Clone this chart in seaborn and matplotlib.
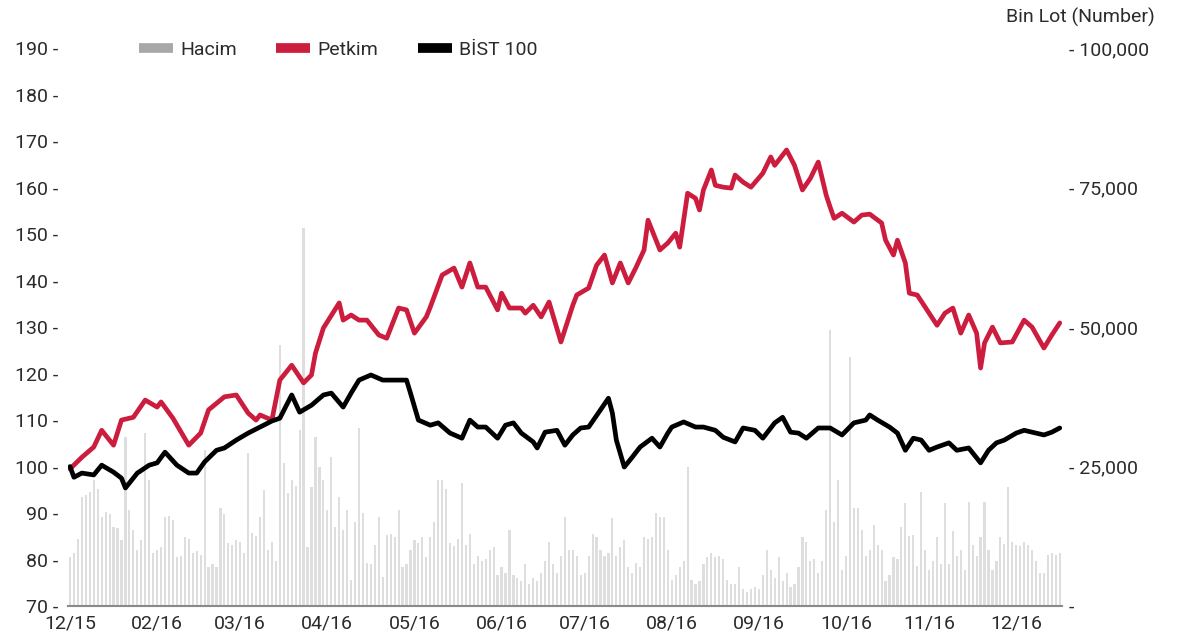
import numpy as np
import pandas as pd
import seaborn as sns
import matplotlib.pyplot as plt
from matplotlib.lines import Line2D

# işlem günü indeksleri ve değerler
petkim_day = [0, 3, 6, 8, 11, 13, 16, 19, 22, 23, 26, 30, 33, 35, 39, 42, 45, 47, 48, 51,
              53, 56, 59, 61, 62, 64, 68, 69, 71, 73, 75, 78, 80, 83, 85, 87, 90, 91, 94, 97,
              99, 101, 103, 105, 108, 109, 111, 114, 115, 117, 119, 121, 124, 127, 128, 131, 133, 135, 137, 139,
              141, 143, 145, 146, 149, 151, 153, 154, 156, 158, 159, 160, 162, 163, 165, 167, 168, 170, 172, 175,
              177, 178, 181, 183, 185, 187, 189, 191, 192, 193, 195, 198, 200, 202, 205, 206, 208, 209, 211, 212,
              214, 216, 219, 221, 223, 225, 227, 229, 230, 231, 233, 235, 238, 241, 243, 246, 248, 250]
petkim = [99.5, 102.0, 104.2, 107.8, 104.6, 110.0, 110.6, 114.3, 112.8, 113.9, 110.4, 104.6, 107.2, 112.2, 115.0, 115.4, 111.5, 110.0, 111.1, 110.0,
          118.6, 121.8, 118.0, 119.7, 124.4, 129.8, 135.2, 131.5, 132.6, 131.5, 131.5, 128.3, 127.6, 134.1, 133.7, 128.7, 132.2, 134.3, 141.2, 142.7,
          138.6, 143.8, 138.6, 138.6, 133.7, 137.3, 134.1, 134.1, 133.0, 134.7, 132.2, 135.4, 126.8, 134.7, 136.9, 138.4, 143.3, 145.5, 139.5, 143.8,
          139.5, 142.9, 146.6, 153.0, 146.6, 148.1, 150.2, 147.2, 158.8, 157.7, 155.2, 159.5, 163.8, 160.5, 160.1, 159.9, 162.7, 161.2, 160.1, 163.1,
          166.6, 164.8, 168.1, 164.8, 159.5, 162.0, 165.5, 158.4, 155.8, 153.4, 154.5, 152.6, 154.1, 154.3, 152.4, 148.7, 145.5, 148.7, 143.8, 137.3,
          136.9, 134.3, 130.4, 133.0, 134.1, 128.7, 132.6, 128.7, 121.2, 126.6, 130.0, 126.6, 126.8, 131.5, 130.0, 125.5, 128.3, 130.9]

bist_day = [0, 1, 3, 6, 8, 11, 13, 14, 17, 20, 22, 24, 27, 30, 32, 34, 37, 39, 42, 45,
            48, 51, 53, 56, 58, 61, 64, 66, 69, 71, 73, 76, 79, 82, 85, 86, 88, 91, 93, 96,
            99, 101, 103, 105, 108, 110, 112, 114, 117, 118, 120, 123, 125, 127, 129, 131, 134, 136, 137, 138,
            140, 142, 144, 147, 149, 151, 152, 155, 158, 160, 163, 165, 168, 170, 173, 175, 178, 180, 182, 184,
            186, 189, 192, 195, 198, 201, 202, 204, 207, 209, 211, 213, 215, 217, 219, 222, 224, 227, 230, 232,
            234, 236, 239, 241, 244, 246, 248, 250]
bist = [100.0, 97.7, 98.6, 98.2, 100.3, 98.8, 97.5, 95.4, 98.6, 100.3, 100.8, 103.1, 100.3, 98.6, 98.6, 101.0, 103.5, 104.0, 105.7, 107.2,
        108.5, 109.8, 110.4, 115.4, 111.7, 113.2, 115.4, 115.8, 112.8, 115.8, 118.6, 119.7, 118.6, 118.6, 118.6, 115.8, 110.0, 108.9, 109.4, 107.2,
        106.1, 110.0, 108.5, 108.5, 106.1, 108.9, 109.4, 107.2, 105.3, 104.0, 107.4, 107.8, 104.6, 106.8, 108.3, 108.5, 112.2, 114.7, 111.5, 105.7,
        99.9, 102.0, 104.2, 106.1, 104.2, 107.2, 108.5, 109.6, 108.5, 108.5, 107.8, 106.3, 105.3, 108.3, 107.8, 106.1, 109.4, 110.6, 107.4, 107.2,
        106.1, 108.3, 108.3, 106.8, 109.4, 110.0, 111.1, 110.0, 108.5, 107.2, 103.5, 106.1, 105.7, 103.5, 104.2, 105.1, 103.5, 104.0, 100.8, 103.5,
        105.1, 105.7, 107.2, 107.8, 107.2, 106.8, 107.4, 108.3]

# günlük hacim (lot)
hacim = [8800, 9500, 12000, 19500, 19900, 20500, 22600, 21000, 16000, 16800,
         16500, 14200, 14000, 11800, 30300, 17200, 13600, 10000, 11800, 31000,
         22600, 9500, 10000, 10500, 16000, 16200, 15500, 8800, 9000, 12400,
         12000, 9500, 9800, 9200, 28000, 7000, 7500, 7000, 17600, 16500,
         11300, 11000, 11800, 11500, 9500, 27400, 13100, 12500, 16000, 20800,
         10000, 11500, 8000, 46800, 25600, 20200, 22600, 21500, 31500, 67700,
         10600, 21300, 30300, 24900, 22600, 17200, 26700, 14200, 19500, 13600,
         17200, 4700, 15000, 32000, 16700, 7700, 7500, 10900, 15900, 5200,
         12700, 13000, 12400, 17200, 7000, 7500, 10000, 11800, 11300, 12400,
         8800, 12400, 15000, 22600, 22600, 21000, 11300, 10800, 12000, 22000,
         11000, 13000, 7500, 9000, 8000, 8500, 10000, 10500, 5500, 7000,
         6000, 13600, 5500, 5000, 4500, 7500, 4000, 5000, 4500, 6000,
         8000, 11400, 7500, 6000, 9000, 15900, 10000, 10000, 9000, 5500,
         6000, 9000, 13000, 12400, 10000, 9000, 9500, 15800, 9000, 10500,
         11800, 7000, 6000, 7700, 7000, 12400, 12000, 12400, 16700, 16000,
         16000, 10000, 4700, 5500, 7000, 8000, 24900, 4700, 4000, 4500,
         7500, 8800, 9500, 8800, 9000, 8500, 4700, 4000, 4000, 7000,
         3000, 2500, 3000, 3500, 3000, 5500, 10000, 6500, 5000, 8800,
         4500, 6000, 3400, 4000, 7000, 12400, 11500, 8000, 8500, 6000,
         8000, 17200, 49500, 15000, 22600, 6500, 9000, 44600, 17500, 17500,
         13600, 9000, 10000, 14600, 11000, 10000, 4500, 5500, 8800, 8500,
         14200, 18500, 12500, 12800, 7200, 20400, 10000, 6500, 8000, 12400,
         7500, 18500, 7500, 13500, 9000, 10000, 6500, 18700, 11000, 9000,
         12300, 18700, 10000, 6500, 8000, 12400, 11200, 21300, 11500, 11000,
         10800, 11500, 11000, 10000, 8000, 6000, 6000, 9200, 9500, 9200,
         9500]

ay_etiket = ['12/15', '02/16', '03/16', '04/16', '05/16', '06/16',
             '07/16', '08/16', '09/16', '10/16', '11/16', '12/16']
ay_gun = [0, 22, 43, 65, 87, 109, 130, 152, 174, 196, 217, 239]

sns.set_theme(style='white')
plt.rcParams['font.family'] = ['Roboto', 'DejaVu Sans']
renk_yazi = '#2b2b2b'

fig = plt.figure(figsize=(11.83, 6.39), dpi=100)
ax = fig.add_axes([0.0575, 0.0516, 0.840, 0.873])
ax2 = ax.twinx()

# hacim çubukları (sağ eksen)
df_h = pd.DataFrame({'gun': np.arange(len(hacim)), 'hacim': hacim})
sns.barplot(data=df_h, x='gun', y='hacim', native_scale=True, color='#dedede',
            width=0.55, saturation=1, linewidth=0, ax=ax2)

# fiyat çizgileri (sol eksen)
sns.lineplot(x=petkim_day, y=petkim, ax=ax, color='#cc1d3f', lw=3.4)
sns.lineplot(x=bist_day, y=bist, ax=ax, color='black', lw=3.4)

ax.set_zorder(ax2.get_zorder() + 1)
ax.patch.set_visible(False)

ax.set_xlim(-0.5, 250.5)
ax.set_ylim(70, 190)
ax2.set_ylim(0, 100000)

ax.set_yticks(range(70, 191, 10))
ax.set_yticklabels([f'{v} -' for v in range(70, 191, 10)])
ax2.set_yticks([0, 25000, 50000, 75000, 100000])
ax2.set_yticklabels(['-', '- 25,000', '- 50,000', '- 75,000', '- 100,000'])
ax.set_xticks(ay_gun)
ax.set_xticklabels(ay_etiket)

ax.tick_params(axis='y', length=0, pad=7, labelsize=14, labelcolor=renk_yazi)
ax.tick_params(axis='x', length=0, pad=6, labelsize=14, labelcolor=renk_yazi)
ax2.tick_params(axis='y', length=0, pad=5, labelsize=14, labelcolor=renk_yazi)
ax.set_xlabel('')
ax.set_ylabel('')
ax2.set_xlabel('')
ax2.set_ylabel('')

for a in (ax, ax2):
    for s in ('top', 'left', 'right', 'bottom'):
        a.spines[s].set_visible(False)
ax.spines['bottom'].set_visible(True)
ax.spines['bottom'].set_color('#8a8a8a')
ax.spines['bottom'].set_linewidth(1.5)

handles = [Line2D([], [], color='#a8a8aa', lw=7, solid_capstyle='butt'),
           Line2D([], [], color='#cc1d3f', lw=7, solid_capstyle='butt'),
           Line2D([], [], color='black', lw=7, solid_capstyle='butt')]
leg = ax.legend(handles, ['Hacim', 'Petkim', 'BİST 100'], loc='center left',
                bbox_to_anchor=(0.071, 0.997), ncol=3, frameon=False, fontsize=14,
                handlelength=1.75, handletextpad=0.4, columnspacing=2.0,
                borderaxespad=0, borderpad=0)
for t in leg.get_texts():
    t.set_color(renk_yazi)

fig.text(0.976, 0.972, 'Bin Lot (Number)', ha='right', va='center',
         fontsize=14, color=renk_yazi)

plt.savefig('out.png', dpi=100)
